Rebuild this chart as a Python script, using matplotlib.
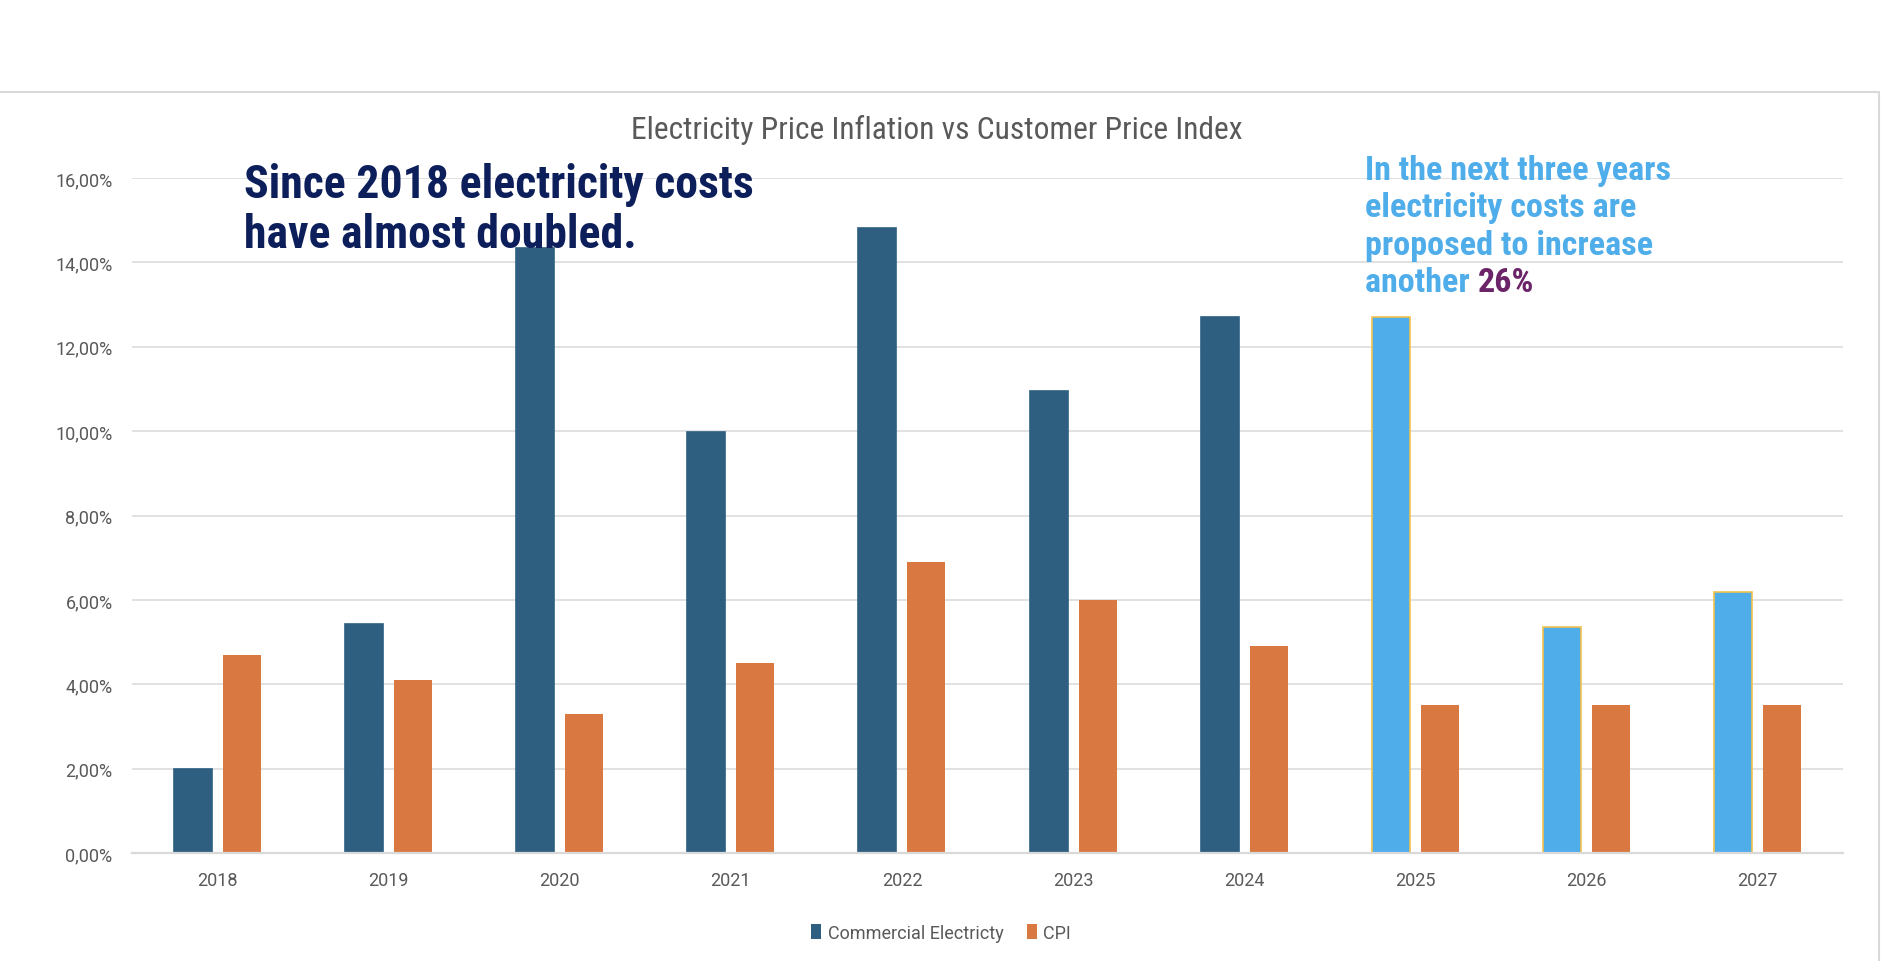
import matplotlib
matplotlib.use("Agg")
import matplotlib.pyplot as plt
from matplotlib import font_manager
from matplotlib.patches import Rectangle, Patch
import numpy as np

# data (values in %)
years = [2018, 2019, 2020, 2021, 2022, 2023, 2024, 2025, 2026, 2027]
electricity = [2.00, 5.42, 14.35, 9.97, 14.82, 10.94, 12.71, 12.70, 5.36, 6.18]
cpi = [4.69, 4.09, 3.30, 4.50, 6.90, 6.00, 4.90, 3.50, 3.50, 3.50]
first_proposed = 2025
series_names = ["Commercial Electricty", "CPI"]

title = "Electricity Price Inflation vs Customer Price Index"
note_left = ["Since 2018 electricity costs", "have almost doubled."]
note_right = ["In the next three years", "electricity costs are",
              "proposed to increase", "another "]
note_right_hi = "26%"

BLUE = "#2E5F80"
ORANGE = "#DA7842"
LIGHT = "#4FADEA"
GOLD = "#F2C14E"
GREY = "#595959"
GRID = "#D9D9D9"

plt.rcParams["font.family"] = ["Roboto", "DejaVu Sans"]

# narrow font for title / notes if there is one
installed = {f.name for f in font_manager.fontManager.ttflist}
narrow = next((n for n in ["Roboto Condensed", "Liberation Sans Narrow",
                           "Open Sans Condensed"] if n in installed), "Roboto")

W, H = 1882, 962
fig = plt.figure(figsize=(W / 100, H / 100), dpi=100)
ax = fig.add_axes([132 / W, 1 - 854 / H, (1843 - 132) / W, (854 - 179) / H])

x = np.arange(len(years))
bw = 0.222
off = 0.143
elec_fc = [LIGHT if y >= first_proposed else BLUE for y in years]
elec_ec = [GOLD if y >= first_proposed else BLUE for y in years]
ax.bar(x - off, electricity, bw, color=elec_fc, edgecolor=elec_ec, linewidth=1.2, zorder=3)
ax.bar(x + off, cpi, bw, color=ORANGE, zorder=3)

ax.set_xlim(-0.5, len(years) - 0.5)
ax.set_ylim(0, 16)
ax.set_yticks(np.arange(0, 17, 2))
ax.set_yticklabels([f"{v:.2f}%".replace(".", ",") for v in np.arange(0, 17, 2)])
ax.set_xticks(x)
ax.set_xticklabels([str(y) for y in years])
ax.tick_params(length=0, labelsize=13, labelcolor=GREY)
ax.tick_params(axis="y", pad=14)
ax.tick_params(axis="x", pad=13)
ax.grid(axis="y", color=GRID, linewidth=1.1, zorder=0)
for s in ["top", "right", "left"]:
    ax.spines[s].set_visible(False)
ax.spines["bottom"].set_color(GRID)
ax.spines["bottom"].set_linewidth(1.6)
ax.spines["bottom"].set_zorder(4)

# chart area border
fig.patches.append(Rectangle((-0.01, -0.01), 1879 / W + 0.01, (H - 93) / H + 0.01,
                             transform=fig.transFigure, fill=False,
                             edgecolor=GRID, linewidth=1.5))

renderer = fig.canvas.get_renderer()


def fit_size(s, width_px, **kw):
    t = fig.text(0, 0, s, fontsize=20, **kw)
    w = t.get_window_extent(renderer).width
    t.remove()
    return 20 * width_px / w


size = fit_size(title, 610, family=narrow)
fig.text(937 / W, 1 - 130 / H, title, ha="center", va="center",
         fontsize=size, color=GREY, family=narrow)

size = fit_size(note_left[0], 508, family=narrow, weight="bold")
for line, base in zip(note_left, [198, 248]):
    fig.text(244 / W, 1 - base / H, line, fontsize=size, weight="bold",
             color="#0C1F5B", family=narrow, va="baseline")

size = fit_size(note_right[0], 305, family=narrow, weight="bold")
for line, base in zip(note_right, [180, 217, 255, 292]):
    t = fig.text(1365 / W, 1 - base / H, line, fontsize=size, weight="bold",
                 color=LIGHT, family=narrow, va="baseline")
end = t.get_window_extent(renderer).x1
fig.text(end / W, 1 - 292 / H, note_right_hi, fontsize=size, weight="bold",
         color="#6B2468", family=narrow, va="baseline")

handles = [Patch(facecolor=BLUE), Patch(facecolor=ORANGE)]
fig.legend(handles, series_names, loc="center", bbox_to_anchor=(941 / W, 1 - 934 / H),
           ncol=2, frameon=False, fontsize=13, labelcolor=GREY,
           handlelength=0.55, handleheight=0.9, handletextpad=0.35, columnspacing=1.3)

fig.savefig("out.png", dpi=100)
